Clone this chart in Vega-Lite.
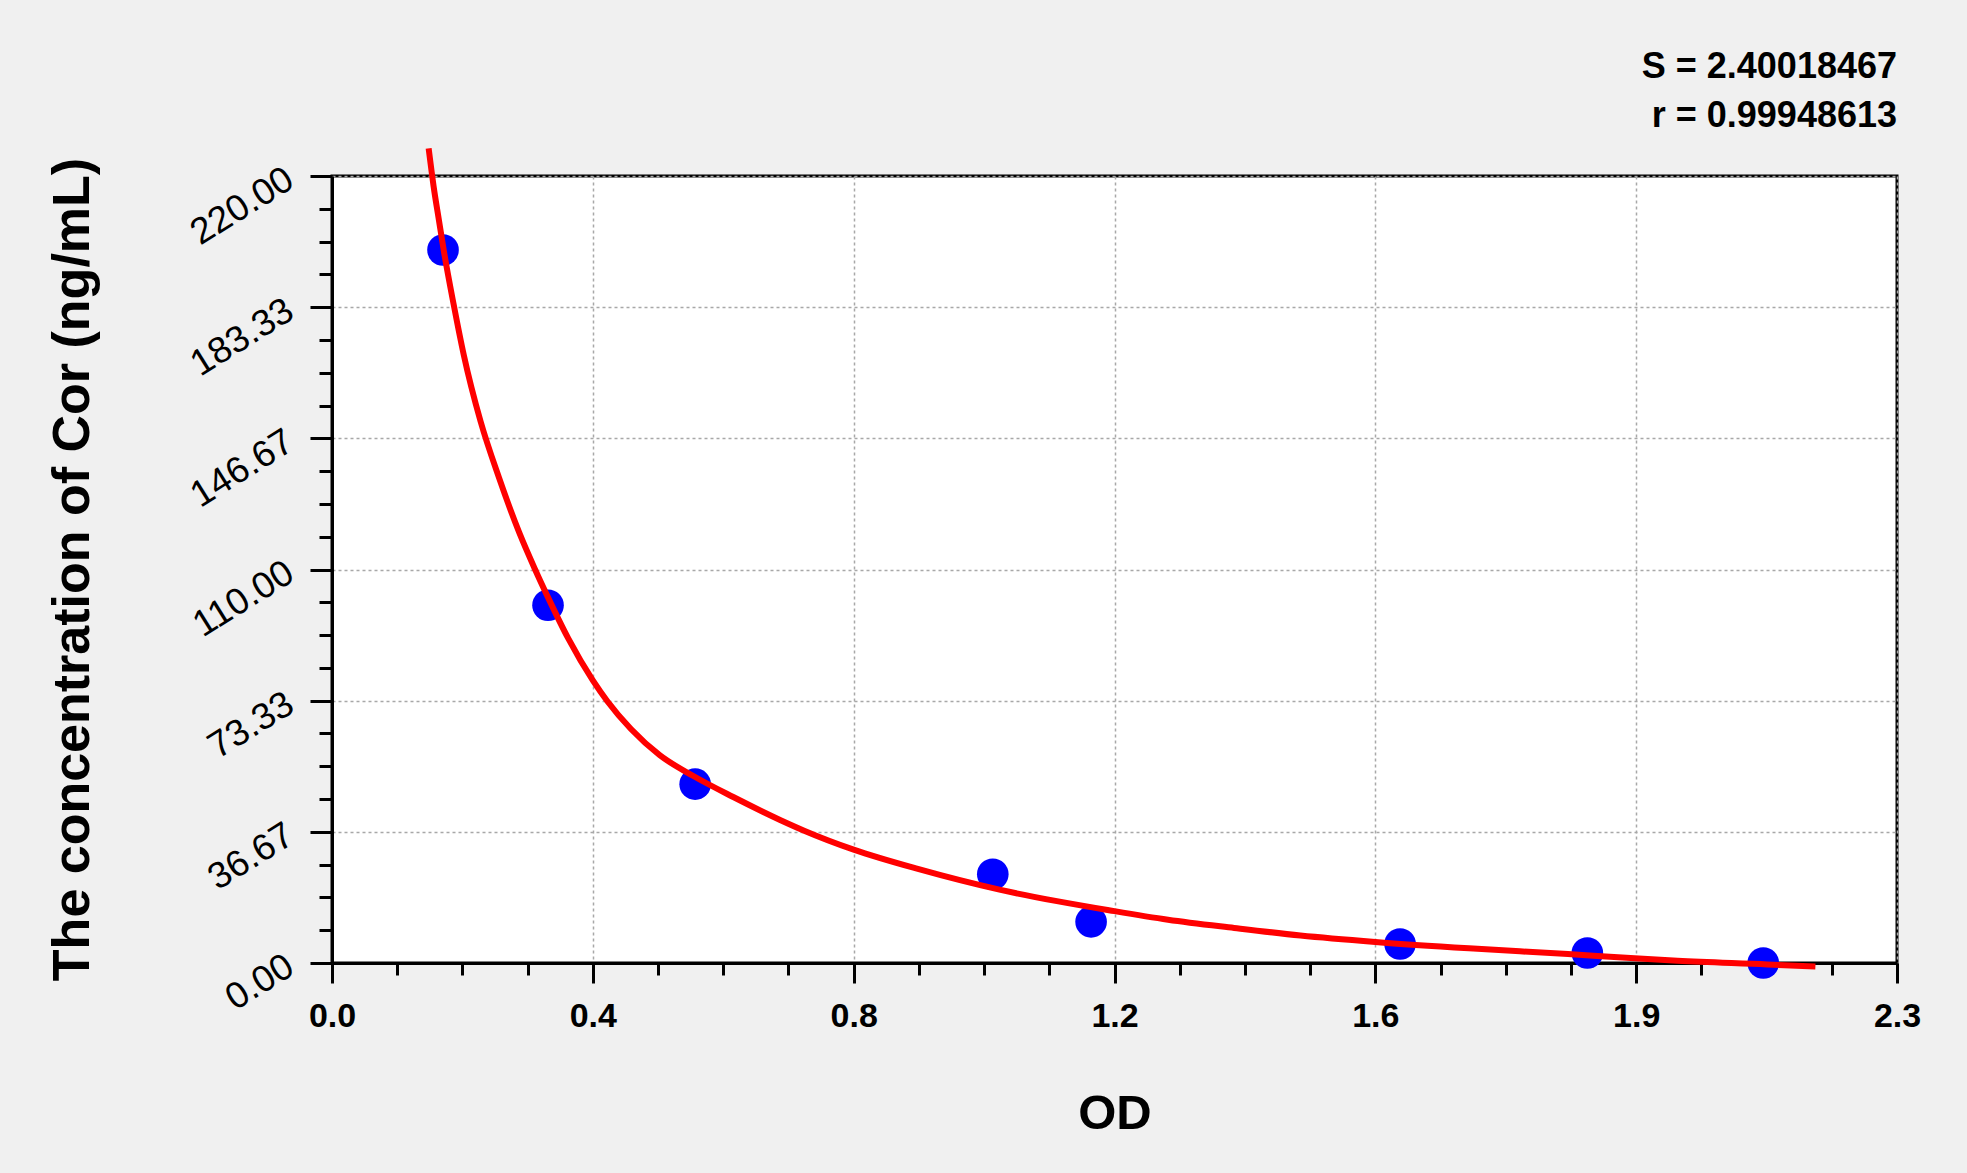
{
  "$schema": "https://vega.github.io/schema/vega-lite/v6.json",
  "description": "Standard curve, concentration of Cor vs OD",
  "background": "#f0f0f0",
  "autosize": {"type": "none"},
  "padding": {"left": 332, "top": 176, "right": 70, "bottom": 210},
  "width": 1565,
  "height": 787,
  "title": {
    "text": ["S = 2.40018467", "r = 0.99948613"],
    "anchor": "end",
    "frame": "group",
    "font": "Liberation Sans",
    "fontSize": 36,
    "fontWeight": "bold",
    "color": "black",
    "lineHeight": 49,
    "offset": 1
  },
  "datasets": {
    "standards": [
      {"od": 0.166, "conc": 199.3},
      {"od": 0.323, "conc": 100.0},
      {"od": 0.543, "conc": 50.0},
      {"od": 0.988, "conc": 24.8},
      {"od": 1.135, "conc": 11.5},
      {"od": 1.597, "conc": 5.3},
      {"od": 1.877, "conc": 2.8},
      {"od": 2.140, "conc": 0.0}
    ],
    "curve": [
      {"od": 0.1445, "conc": 227.7},
      {"od": 0.152, "conc": 217.0},
      {"od": 0.160, "conc": 207.5},
      {"od": 0.167, "conc": 199.3},
      {"od": 0.182, "conc": 184.0},
      {"od": 0.197, "conc": 170.0},
      {"od": 0.222, "conc": 151.5},
      {"od": 0.250, "conc": 135.5},
      {"od": 0.280, "conc": 120.3},
      {"od": 0.303, "conc": 110.3},
      {"od": 0.323, "conc": 102.2},
      {"od": 0.353, "conc": 90.8},
      {"od": 0.390, "conc": 79.0},
      {"od": 0.412, "conc": 73.1},
      {"od": 0.447, "conc": 65.4},
      {"od": 0.490, "conc": 58.1},
      {"od": 0.541, "conc": 52.2},
      {"od": 0.600, "conc": 46.4},
      {"od": 0.670, "conc": 40.0},
      {"od": 0.706, "conc": 37.0},
      {"od": 0.780, "conc": 31.7},
      {"od": 0.876, "conc": 26.3},
      {"od": 0.998, "conc": 20.5},
      {"od": 1.170, "conc": 14.5},
      {"od": 1.250, "conc": 12.1},
      {"od": 1.349, "conc": 9.8},
      {"od": 1.448, "conc": 7.7},
      {"od": 1.560, "conc": 5.9},
      {"od": 1.700, "conc": 4.1},
      {"od": 1.848, "conc": 2.5},
      {"od": 1.923, "conc": 1.6},
      {"od": 2.012, "conc": 0.6},
      {"od": 2.146, "conc": -0.4},
      {"od": 2.218, "conc": -1.0}
    ]
  },
  "encoding": {
    "x": {
      "field": "od",
      "type": "quantitative",
      "scale": {"domain": [0, 2.34], "nice": false, "zero": false},
      "axis": {
        "title": "OD",
        "titleFont": "Liberation Sans",
        "titleFontSize": 49,
        "titleFontWeight": "bold",
        "titleColor": "black",
        "titleY": 150,
        "titleBaseline": "middle",
        "values": [0, 0.0975, 0.195, 0.2925, 0.39, 0.4875, 0.585, 0.6825, 0.78, 0.8775, 0.975, 1.0725, 1.17, 1.2675, 1.365, 1.4625, 1.56, 1.6575, 1.755, 1.8525, 1.95, 2.0475, 2.145, 2.2425, 2.34],
        "labelExpr": "abs(datum.value / 0.39 - round(datum.value / 0.39)) < 0.001 ? format(datum.value, '.1f') : ''",
        "labelFont": "Liberation Sans",
        "labelFontSize": 34,
        "labelFontWeight": "bold",
        "labelColor": "black",
        "labelPadding": 16,
        "labelOverlap": false,
        "labelFlush": false,
        "labelBound": false,
        "domainColor": "black",
        "domainWidth": 3,
        "tickColor": "black",
        "tickWidth": 3,
        "tickSize": {"condition": {"test": "abs(datum.value / 0.39 - round(datum.value / 0.39)) < 0.001", "value": 20}, "value": 12},
        "grid": true,
        "gridColor": "#a8a8a8",
        "gridDash": [3, 3],
        "gridWidth": 1.5,
        "gridOpacity": {"condition": {"test": "abs(datum.value / 0.39 - round(datum.value / 0.39)) < 0.001", "value": 1}, "value": 0}
      }
    },
    "y": {
      "field": "conc",
      "type": "quantitative",
      "scale": {"domain": [0, 220], "nice": false},
      "axis": {
        "title": "The concentration of Cor (ng/mL)",
        "titleFont": "Liberation Sans",
        "titleFontSize": 52,
        "titleFontWeight": "bold",
        "titleColor": "black",
        "titleAngle": -90,
        "titleX": -260,
        "titleY": 393,
        "titleBaseline": "middle",
        "titleAlign": "center",
        "values": [0, 9.166666667, 18.333333333, 27.5, 36.666666667, 45.833333333, 55, 64.166666667, 73.333333333, 82.5, 91.666666667, 100.833333333, 110, 119.166666667, 128.333333333, 137.5, 146.666666667, 155.833333333, 165, 174.166666667, 183.333333333, 192.5, 201.666666667, 210.833333333, 220],
        "labelExpr": "abs(datum.value * 6 / 220 - round(datum.value * 6 / 220)) < 0.001 ? format(datum.value, '.2f') : ''",
        "labelFont": "Liberation Sans",
        "labelFontSize": 37,
        "labelColor": "black",
        "labelAngle": -32,
        "labelAlign": "right",
        "labelBaseline": "middle",
        "labelPadding": 20,
        "labelOverlap": false,
        "labelFlush": false,
        "labelBound": false,
        "domainColor": "black",
        "domainWidth": 3,
        "tickColor": "black",
        "tickWidth": 3,
        "tickSize": {"condition": {"test": "abs(datum.value * 6 / 220 - round(datum.value * 6 / 220)) < 0.001", "value": 22}, "value": 13},
        "grid": true,
        "gridColor": "#a8a8a8",
        "gridDash": [3, 3],
        "gridWidth": 1.5,
        "gridOpacity": {"condition": {"test": "abs(datum.value * 6 / 220 - round(datum.value * 6 / 220)) < 0.001", "value": 1}, "value": 0}
      }
    }
  },
  "layer": [
    {
      "data": {"name": "standards"},
      "mark": {"type": "point", "filled": true, "color": "#0000ff", "opacity": 1, "size": 1000, "shape": "circle"}
    },
    {
      "data": {"name": "curve"},
      "mark": {"type": "line", "color": "#ff0000", "strokeWidth": 6, "interpolate": "monotone"}
    }
  ],
  "config": {
    "font": "Liberation Sans",
    "view": {"stroke": "black", "strokeWidth": 3, "fill": "white"}
  }
}
